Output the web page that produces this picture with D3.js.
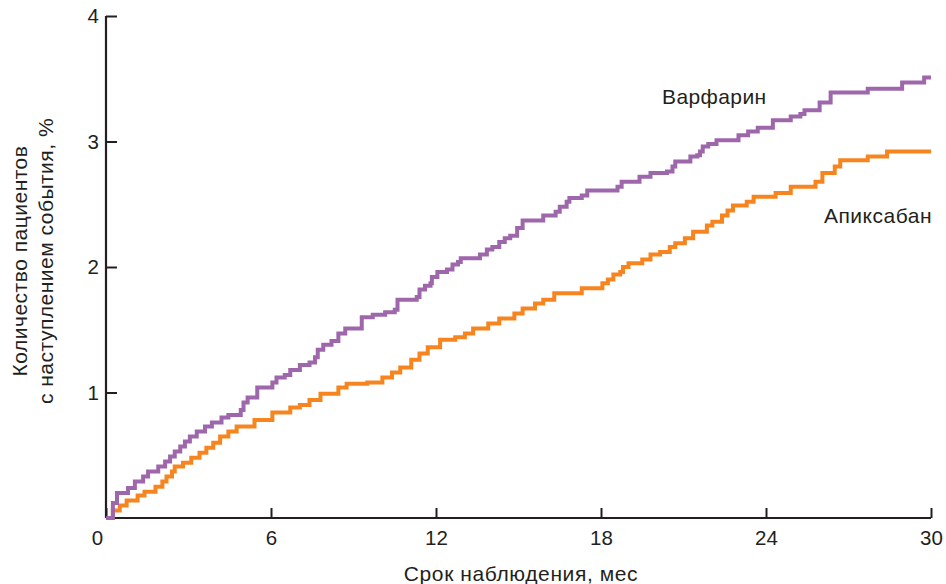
<!DOCTYPE html>
<html lang="ru">
<head>
<meta charset="utf-8">
<title>Варфарин vs Апиксабан</title>
<script src="https://d3js.org/d3.v7.min.js"></script>
<style>
  body { margin: 0; background: #fff; }
  text { font-family: "Liberation Sans", Arial, sans-serif; fill: #231f20; }
</style>
</head>
<body>
<script>
// months / percent
var xTicks = [0, 6, 12, 18, 24, 30];
var yTicks = [1, 2, 3, 4];

var warfarinT = [0, 0.25, 0.4, 0.8, 1.05, 1.35, 1.53, 1.9, 2.15, 2.33, 2.5, 2.7, 2.87, 3.05, 3.3, 3.6, 3.85, 4.2, 4.45, 4.9, 5.0, 5.15, 5.5, 6.05, 6.2, 6.5, 6.7, 7.05, 7.4, 7.6, 7.7, 7.9, 8.2, 8.45, 8.7, 9.3, 9.7, 10.15, 10.5, 10.6, 11.3, 11.4, 11.6, 11.8, 11.85, 12.05, 12.4, 12.6, 12.8, 12.9, 13.6, 13.85, 14.05, 14.3, 14.5, 14.7, 14.95, 15.15, 15.9, 16.35, 16.5, 16.75, 16.85, 17.3, 17.5, 18.6, 18.75, 19.4, 19.8, 20.4, 20.6, 20.7, 21.25, 21.5, 21.6, 21.7, 21.9, 22.2, 23.0, 23.35, 23.7, 24.25, 24.9, 25.25, 25.4, 25.95, 26.35, 27.7, 28.95, 29.75, 30];
var warfarinV = [0, 0.12, 0.2, 0.24, 0.29, 0.33, 0.37, 0.41, 0.45, 0.49, 0.53, 0.57, 0.61, 0.65, 0.69, 0.73, 0.76, 0.8, 0.82, 0.86, 0.92, 0.96, 1.04, 1.08, 1.12, 1.14, 1.18, 1.22, 1.24, 1.28, 1.34, 1.38, 1.41, 1.47, 1.51, 1.6, 1.62, 1.64, 1.66, 1.74, 1.76, 1.82, 1.85, 1.87, 1.92, 1.96, 1.98, 2.02, 2.04, 2.07, 2.1, 2.14, 2.16, 2.2, 2.23, 2.25, 2.31, 2.37, 2.41, 2.44, 2.48, 2.52, 2.55, 2.57, 2.61, 2.64, 2.68, 2.72, 2.75, 2.76, 2.8, 2.84, 2.88, 2.89, 2.92, 2.96, 2.98, 3.01, 3.05, 3.08, 3.11, 3.17, 3.2, 3.22, 3.25, 3.31, 3.39, 3.42, 3.47, 3.51, 3.51];

var apixabanT = [0, 0.25, 0.5, 0.75, 1.15, 1.4, 1.8, 2.05, 2.2, 2.4, 2.5, 2.8, 3.1, 3.4, 3.65, 3.9, 4.15, 4.45, 4.75, 5.4, 6.05, 6.7, 7.05, 7.4, 7.8, 8.45, 8.75, 9.5, 10.05, 10.4, 10.7, 11.1, 11.4, 11.7, 12.15, 12.7, 13.05, 13.35, 13.9, 14.3, 14.85, 15.15, 15.6, 15.9, 16.3, 17.3, 18.05, 18.25, 18.45, 18.7, 18.8, 19.0, 19.5, 19.8, 20.15, 20.5, 20.7, 21.05, 21.35, 21.85, 22.05, 22.4, 22.6, 22.8, 23.3, 23.55, 24.35, 24.9, 25.8, 26.05, 26.5, 26.7, 27.7, 28.4, 30];
var apixabanV = [0, 0.06, 0.1, 0.14, 0.18, 0.21, 0.25, 0.29, 0.33, 0.37, 0.41, 0.44, 0.48, 0.52, 0.56, 0.6, 0.65, 0.69, 0.73, 0.78, 0.84, 0.88, 0.9, 0.94, 0.99, 1.04, 1.07, 1.08, 1.12, 1.16, 1.2, 1.26, 1.31, 1.36, 1.42, 1.44, 1.47, 1.51, 1.55, 1.59, 1.63, 1.67, 1.71, 1.74, 1.79, 1.83, 1.87, 1.9, 1.94, 1.96, 2.0, 2.03, 2.06, 2.1, 2.12, 2.16, 2.19, 2.23, 2.28, 2.33, 2.36, 2.41, 2.45, 2.49, 2.52, 2.56, 2.59, 2.64, 2.68, 2.75, 2.8, 2.85, 2.88, 2.92, 2.92];

var w = 946, h = 584;
var svg = d3.select("body").append("svg")
    .attr("width", w)
    .attr("height", h);

var x = d3.scaleLinear().domain([0, 30]).range([106, 931]);
var y = d3.scaleLinear().domain([0, 4]).range([518, 16]);

// axes
var xAxis = svg.append("g")
    .attr("transform", "translate(0," + y(0) + ")")
    .call(d3.axisBottom(x).tickValues(xTicks).tickFormat(d3.format("d"))
        .tickSizeInner(-10).tickSizeOuter(0).tickPadding(12));
var yAxis = svg.append("g")
    .attr("transform", "translate(" + x(0) + ",0)")
    .call(d3.axisLeft(y).tickValues(yTicks).tickFormat(d3.format("d"))
        .tickSizeInner(-11).tickSizeOuter(0).tickPadding(7));

svg.selectAll(".domain").attr("stroke", "#231f20").attr("stroke-width", 2.2);
svg.selectAll(".tick line").attr("stroke", "#231f20").attr("stroke-width", 2);
svg.selectAll(".tick text")
    .attr("font-size", 20.5)
    .attr("fill", "#231f20")
    .style("font-family", "'Liberation Sans', Arial, sans-serif");
xAxis.selectAll(".tick text").filter(d => d === 0).attr("dx", -9);
xAxis.select(".domain").attr("d", "M" + x(0) + ",0H" + x(30));
yAxis.select(".domain").attr("d", "M0," + y(0) + "V" + y(4));

// curves
var line = d3.line()
    .x(d => x(d[0]))
    .y(d => y(d[1]))
    .curve(d3.curveStepAfter);

svg.append("path")
    .datum(d3.zip(apixabanT, apixabanV))
    .attr("fill", "none")
    .attr("stroke", "#f6851f")
    .attr("stroke-width", 4)
    .attr("d", line);

svg.append("path")
    .datum(d3.zip(warfarinT, warfarinV))
    .attr("fill", "none")
    .attr("stroke", "#9e66ab")
    .attr("stroke-width", 4)
    .attr("d", line);

// labels
svg.append("text")
    .attr("x", 662).attr("y", 104)
    .attr("font-size", 21)
    .attr("letter-spacing", 0.4)
    .text("Варфарин");
svg.append("text")
    .attr("x", 932).attr("y", 223)
    .attr("text-anchor", "end")
    .attr("font-size", 21)
    .attr("letter-spacing", 0.5)
    .text("Апиксабан");

svg.append("text")
    .attr("x", 521).attr("y", 581)
    .attr("text-anchor", "middle")
    .attr("font-size", 21)
    .attr("letter-spacing", 0.6)
    .text("Срок наблюдения, мес");

var yTitle = svg.append("text")
    .attr("transform", "translate(27,261) rotate(-90)")
    .attr("text-anchor", "middle")
    .attr("font-size", 21)
    .attr("letter-spacing", 0.5);
yTitle.append("tspan").attr("x", 0).attr("dy", 0).text("Количество пациентов");
yTitle.append("tspan").attr("x", 0).attr("dy", 26).text("с наступлением события, %");
</script>
</body>
</html>
